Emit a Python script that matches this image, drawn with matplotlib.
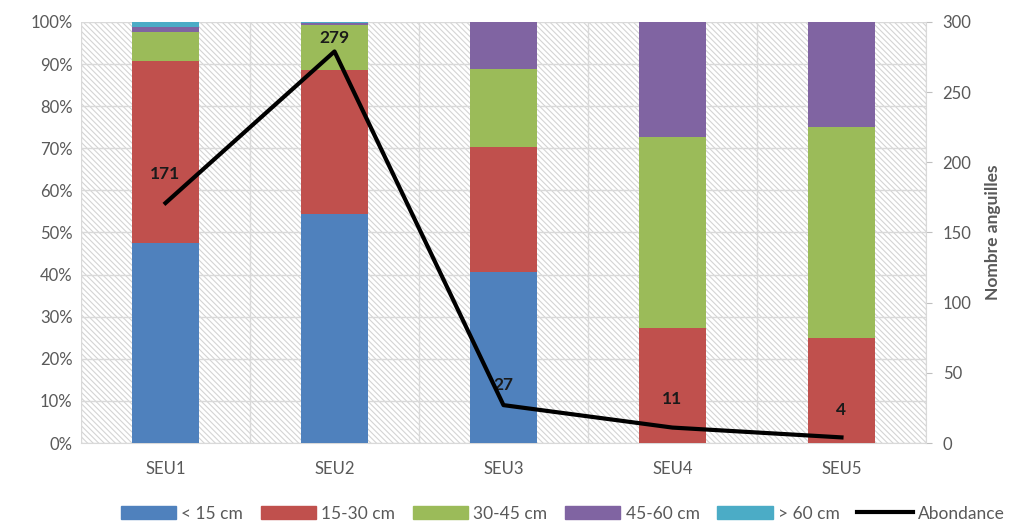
import numpy as np
import matplotlib
matplotlib.use("Agg")
import matplotlib.pyplot as plt
from matplotlib.patches import Rectangle, Patch
from matplotlib.lines import Line2D
from matplotlib.ticker import PercentFormatter

plt.rcParams['font.family'] = ['Lato', 'DejaVu Sans']
plt.rcParams['hatch.linewidth'] = 0.8
plt.rcParams['hatch.color'] = '#d4d4d4'

# Données
sites = ["SEU1", "SEU2", "SEU3", "SEU4", "SEU5"]
classes = ["< 15 cm", "15-30 cm", "30-45 cm", "45-60 cm", "> 60 cm"]
p_lt15 = [47.4, 54.5, 40.7, 0.0, 0.0]
p_15_30 = [43.3, 34.1, 29.6, 27.3, 25.0]
p_30_45 = [7.0, 10.8, 18.5, 45.4, 50.0]
p_45_60 = [1.1, 0.3, 11.2, 27.3, 25.0]
p_gt60 = [1.2, 0.3, 0.0, 0.0, 0.0]
abondance = [171, 279, 27, 11, 4]
label_offsets = [15, 4, 9, 15, 14]

couleurs = ["#4F81BD", "#C0504D", "#9BBB59", "#8064A2", "#4BACC6"]
gris = "#595959"

fig = plt.figure(figsize=(10.1, 5.31), dpi=100)
ax = fig.add_axes([0.0802, 0.1657, 0.8366, 0.7929])
x = np.arange(len(sites))

# fond hachuré
ax.add_patch(Rectangle((0, 0), 1, 1, transform=ax.transAxes, facecolor="white",
                       edgecolor="#d4d4d4", hatch="\\\\\\\\\\\\", linewidth=0, zorder=0))

series = [p_lt15, p_15_30, p_30_45, p_45_60, p_gt60]
bas = np.zeros(len(sites))
for vals, c in zip(series, couleurs):
    ax.bar(x, vals, 0.4, bottom=bas, color=c, zorder=3)
    bas += np.array(vals)

ax.set_xlim(-0.5, len(sites) - 0.5)
ax.set_ylim(0, 100)
ax.set_yticks(np.arange(0, 101, 10))
ax.yaxis.set_major_formatter(PercentFormatter(decimals=0))
ax.set_xticks(x)
ax.set_xticklabels(sites)
ax.set_xticks(np.arange(-0.5, len(sites)), minor=True)
ax.grid(True, axis="y", color="#d9d9d9", linewidth=1, zorder=1)
ax.grid(True, axis="x", which="minor", color="#d9d9d9", linewidth=1, zorder=1)
ax.tick_params(axis="both", which="both", length=0, colors=gris, labelsize=12)
ax.tick_params(axis="x", pad=13)
ax.tick_params(axis="y", pad=6)
for s in ["top", "left", "right"]:
    ax.spines[s].set_visible(False)
ax.spines["bottom"].set_color("#d9d9d9")
ax.set_axisbelow(True)

ax2 = ax.twinx()
ax2.plot(x, abondance, color="black", linewidth=3, zorder=5)
ax2.set_ylim(0, 300)
ax2.set_yticks(np.arange(0, 301, 50))
ax2.tick_params(axis="y", length=4, color="#bfbfbf", labelcolor=gris, labelsize=12, pad=8)
for s in ["top", "left", "bottom"]:
    ax2.spines[s].set_visible(False)
ax2.spines["right"].set_color("#d9d9d9")
ax2.set_ylabel("Nombre anguilles", color=gris, fontsize=12.5, fontweight="bold", labelpad=10)
for xi, v, off in zip(x, abondance, label_offsets):
    ax2.annotate(str(v), (xi, v), xytext=(0, off), textcoords="offset points",
                 ha="center", va="bottom", fontsize=12.5, fontweight="bold", color="#1a1a1a")

handles = [Patch(color=c) for c in couleurs] + [Line2D([0], [0], color="black", linewidth=3)]
fig.legend(handles, classes + ["Abondance"], loc="lower center", ncol=6,
           bbox_to_anchor=(0.557, -0.012), frameon=False, fontsize=12.5,
           handlelength=3.2, handleheight=0.8, columnspacing=1.0, handletextpad=0.3,
           labelcolor=gris)

fig.savefig("out.png", dpi=100)
